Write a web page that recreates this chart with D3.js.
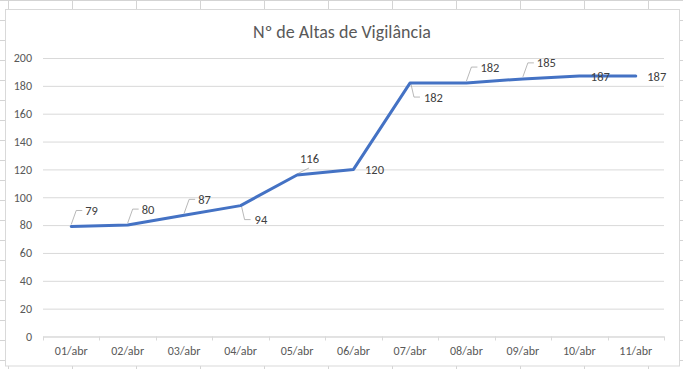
<!DOCTYPE html>
<html>
<head>
<meta charset="utf-8">
<script src="https://cdn.jsdelivr.net/npm/d3@7"></script>
<style>
    body { margin: 0; background: #fff; }
    svg { display: block; }
</style>
</head>
<body>
<div id="chart"></div>
<script>
var days = ["01/abr", "02/abr", "03/abr", "04/abr", "05/abr", "06/abr", "07/abr", "08/abr", "09/abr", "10/abr", "11/abr"];
var altas = [79, 80, 87, 94, 116, 120, 182, 182, 185, 187, 187];
var yTicks = [0, 20, 40, 60, 80, 100, 120, 140, 160, 180, 200];
// where excel put each data label
var labelPlace = ["up", "up", "up", "down", "above", "right", "down", "up", "up", "right", "right"];
var title = "Nº de Altas de Vigilância";

var w = 683;
var h = 369;
var font = "Carlito, Calibri, Lato, sans-serif";

var svg = d3.select("#chart").append("svg")
    .attr("width", w)
    .attr("height", h);

// spreadsheet cells behind the chart
var cols = d3.range(8, w, 64);
var rows = d3.range(0.5, h, 20);
svg.selectAll("line.col")
    .data(cols)
    .enter().append("line")
    .attr("x1", function(d) { return d + 0.5; })
    .attr("x2", function(d) { return d + 0.5; })
    .attr("y1", 0)
    .attr("y2", h)
    .attr("stroke", "#d4d4d4");
svg.selectAll("line.row")
    .data(rows)
    .enter().append("line")
    .attr("x1", 0)
    .attr("x2", w)
    .attr("y1", function(d) { return d; })
    .attr("y2", function(d) { return d; })
    .attr("stroke", "#d4d4d4");

// chart box
svg.append("rect")
    .attr("x", 5.5)
    .attr("y", 9.5)
    .attr("width", 674)
    .attr("height", 356.5)
    .attr("fill", "#fff")
    .attr("stroke", "#d9d9d9");

svg.append("text")
    .attr("x", 342)
    .attr("y", 32)
    .attr("text-anchor", "middle")
    .attr("dominant-baseline", "central")
    .attr("font-family", font)
    .attr("font-weight", 300)
    .attr("font-size", 18)
    .attr("fill", "#595959")
    .text(title);

var plotLeft = 43, plotRight = 664, plotTop = 58, plotBottom = 336.5;

var x = d3.scaleBand().domain(days).range([plotLeft, plotRight]);
var y = d3.scaleLinear().domain([0, 200]).range([plotBottom, plotTop]);

var yAxis = svg.append("g")
    .attr("transform", "translate(" + plotLeft + ",0)")
    .call(d3.axisLeft(y).tickValues(yTicks).tickSize(-(plotRight - plotLeft)).tickPadding(11));
yAxis.select(".domain").remove();
yAxis.selectAll(".tick line").attr("stroke", "#d9d9d9");
yAxis.selectAll(".tick text")
    .attr("font-family", font)
    .attr("font-size", 12)
    .attr("fill", "#595959");

var xAxis = svg.append("g")
    .attr("transform", "translate(0," + plotBottom + ")")
    .call(d3.axisBottom(x).tickSize(0).tickPadding(10));
xAxis.select(".domain").attr("stroke", "#d9d9d9");
xAxis.selectAll(".tick text")
    .attr("font-family", font)
    .attr("font-size", 12)
    .attr("fill", "#595959");

// small ticks between categories
var bounds = days.map(function(d) { return x(d); }).concat([plotRight]);
xAxis.selectAll("line.sep")
    .data(bounds)
    .enter().append("line")
    .attr("x1", function(d) { return Math.round(d) + 0.5; })
    .attr("x2", function(d) { return Math.round(d) + 0.5; })
    .attr("y1", 0)
    .attr("y2", 4)
    .attr("stroke", "#d9d9d9");

var px = function(i) { return x(days[i]) + x.bandwidth() / 2; };

var line = d3.line()
    .x(function(d, i) { return px(i); })
    .y(function(d) { return y(d); });

// leader lines
var leaders = [];
altas.forEach(function(d, i) {
    var a = px(i), b = y(d);
    var p = labelPlace[i];
    if (p == "up") leaders.push([[a, b - 2], [a + 5, b - 16], [a + 11, b - 16]]);
    if (p == "down") leaders.push([[a + 1, b + 1], [a + 4, b + 14], [a + 10, b + 14]]);
    if (p == "above") leaders.push([[a, b - 1], [a + 12, b - 7]]);
});
svg.selectAll("path.leader")
    .data(leaders)
    .enter().append("path")
    .attr("d", d3.line())
    .attr("fill", "none")
    .attr("stroke", "#a6a6a6")
    .attr("stroke-width", 0.8);

svg.append("path")
    .datum(altas)
    .attr("d", line)
    .attr("fill", "none")
    .attr("stroke", "#4472c4")
    .attr("stroke-width", 3)
    .attr("stroke-linejoin", "round")
    .attr("stroke-linecap", "round");

svg.selectAll("text.lbl")
    .data(altas)
    .enter().append("text")
    .attr("x", function(d, i) {
        var p = labelPlace[i];
        if (p == "up") return px(i) + 14;
        if (p == "down") return px(i) + 14;
        if (p == "above") return px(i) + 3;
        return px(i) + 11.5;
    })
    .attr("y", function(d, i) {
        var p = labelPlace[i];
        if (p == "up" || p == "above") return y(d) - 16;
        if (p == "down") return y(d) + 14;
        return y(d);
    })
    .attr("dominant-baseline", "central")
    .attr("font-family", font)
    .attr("font-size", 12.5)
    .attr("fill", "#404040")
    .text(function(d) { return d; });
</script>
</body>
</html>
